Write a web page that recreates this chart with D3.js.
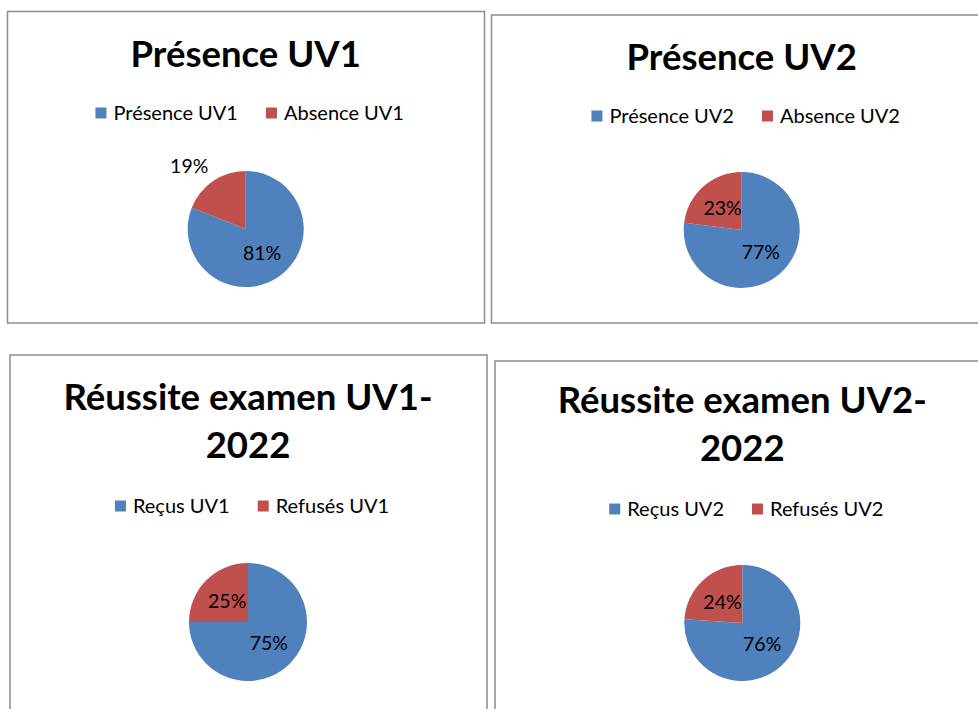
<!DOCTYPE html>
<html>
<head>
<meta charset="utf-8">
<script src="https://cdn.jsdelivr.net/npm/d3@7"></script>
<style>
  body { margin: 0; background: #fff; }
  svg { display: block; font-family: Lato, "Open Sans", sans-serif; }
</style>
</head>
<body>
<svg id="chart" width="978" height="709"></svg>
<script>
// chart titles (one entry per line)
var titles = [
  ['Présence UV1'],
  ['Présence UV2'],
  ['Réussite examen UV1-', '2022'],
  ['Réussite examen UV2-', '2022']
];

// slice names, same order as the values
var categories = [
  ['Présence UV1', 'Absence UV1'],
  ['Présence UV2', 'Absence UV2'],
  ['Reçus UV1', 'Refusés UV1'],
  ['Reçus UV2', 'Refusés UV2']
];

// percentages
var values = [
  [81, 19],
  [77, 23],
  [75, 25],
  [76, 24]
];

// small slice label drawn outside the pie?
var labelOutside = [true, false, false, false];

var colors = ['#4F81BD', '#C0504D'];

// panel boxes and pie placement (page pixels)
var panels = [
  { x: 7.5, y: 11.5, w: 477, h: 311.5, titleY: 67, legendY: 113, cx: 245.7, cy: 229, r: 58 },
  { x: 491.5, y: 15, w: 500, h: 308, titleY: 70, legendY: 116, cx: 741.7, cy: 230, r: 58 },
  { x: 10, y: 355, w: 477, h: 400, titleY: 410, legendY: 506, cx: 248, cy: 622, r: 59 },
  { x: 495, y: 361, w: 500, h: 400, titleY: 413, legendY: 509, cx: 742.3, cy: 623, r: 58 }
];

var svg = d3.select('#chart');
var pct = d3.format('.0%');

var pie = d3.pie()
  .sort(null)
  .value(function (d) { return d.value; });

panels.forEach(function (p, i) {
  var g = svg.append('g').attr('class', 'panel');

  //Panel border
  g.append('rect')
    .attr('x', p.x)
    .attr('y', p.y)
    .attr('width', p.w)
    .attr('height', p.h)
    .attr('fill', '#fff')
    .attr('stroke', '#8c8c8c')
    .attr('stroke-width', 1.5);

  //Title
  g.append('g')
    .selectAll('text')
    .data(titles[i])
    .enter()
    .append('text')
    .attr('x', p.cx)
    .attr('y', function (d, k) { return p.titleY + k * 48; })
    .attr('text-anchor', 'middle')
    .attr('font-size', 36.5)
    .attr('font-weight', 'bold')
    .attr('fill', '#000')
    .text(function (d) { return d; });

  //Legend
  var legend = g.append('g').attr('class', 'legend');
  var offset = 0;
  categories[i].forEach(function (name, k) {
    var item = legend.append('g').attr('transform', 'translate(' + offset + ',0)');
    item.append('rect')
      .attr('x', 0)
      .attr('y', -5.5)
      .attr('width', 11)
      .attr('height', 11)
      .attr('fill', colors[k]);
    var t = item.append('text')
      .attr('x', 18)
      .attr('y', 0)
      .attr('dy', '0.35em')
      .attr('font-size', 20)
      .attr('fill', '#000')
      .text(name);
    offset += 18 + t.node().getComputedTextLength() + 28;
  });
  offset -= 28;
  legend.attr('transform', 'translate(' + (p.cx + 4 - offset / 2) + ',' + p.legendY + ')');

  //Pie
  var data = categories[i].map(function (name, k) {
    return { name: name, value: values[i][k] };
  });
  var total = d3.sum(data, function (d) { return d.value; });
  var arcs = pie(data);

  var arc = d3.arc().innerRadius(0).outerRadius(p.r);
  var labelIn = d3.arc().innerRadius(p.r * 0.5).outerRadius(p.r * 0.5);
  var labelOut = d3.arc().innerRadius(p.r * 1.3).outerRadius(p.r * 1.3);

  var pg = g.append('g').attr('transform', 'translate(' + p.cx + ',' + p.cy + ')');

  pg.selectAll('path')
    .data(arcs)
    .enter()
    .append('path')
    .attr('d', arc)
    .attr('fill', function (d, k) { return colors[k]; });

  pg.selectAll('.dbox-label')
    .data(arcs)
    .enter()
    .append('text')
    .attr('class', 'dbox-label')
    .each(function (d, k) {
      var out = k === 1 && labelOutside[i];
      var c = out ? labelOut.centroid(d) : labelIn.centroid(d);
      d3.select(this)
        .attr('transform', 'translate(' + c[0] + ',' + c[1] + ')')
        .attr('text-anchor', out ? 'end' : 'middle')
        .attr('dx', out ? 5 : 0);
    })
    .attr('dy', '0.35em')
    .attr('font-size', 19.5)
    .attr('fill', '#000')
    .text(function (d) { return pct(d.value / total); });
});
</script>
</body>
</html>
